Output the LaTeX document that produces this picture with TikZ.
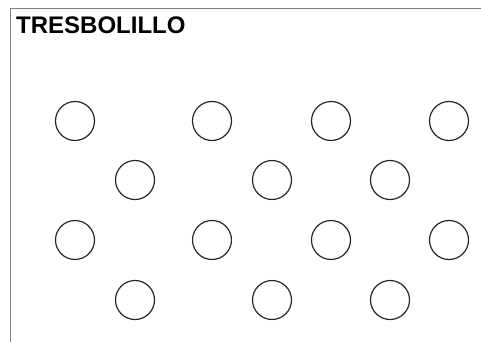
\documentclass[tikz,border=0pt]{standalone}
\usepackage{fontspec}
\setsansfont{Liberation Sans}
\usepackage{xcolor}
\usepackage{tikz}
\usetikzlibrary{positioning}

\begin{document}
\begin{tikzpicture}[x=1pt, y=-1pt, hole/.style={draw=black!85, circle, line width=1.2pt, minimum size=39pt,
    inner sep=0pt}, title/.style={anchor=base west, inner sep=0pt, font=\sffamily\bfseries\fontsize{24}{24}\selectfont}]
    \useasboundingbox (0,0) rectangle (481,342);
    \draw[gray, line width=1pt] (10,342) -- (10,9) -- (481,9);
    \node[title] (titulo) at (16,34) {TRESBOLILLO};
    % fila 1
    \node[hole] (a1) at (75,121) {};
    \node[hole] (a2) at (212,121) {};
    \node[hole] (a3) at (331,121) {};
    \node[hole] (a4) at (449,121) {};
    % fila 2
    \node[hole] (b1) at (135,180) {};
    \node[hole] (b2) at (272,180) {};
    \node[hole] (b3) at (390,180) {};
    % fila 3
    \node[hole] (c1) at (75,240) {};
    \node[hole] (c2) at (212,240) {};
    \node[hole] (c3) at (331,240) {};
    \node[hole] (c4) at (449,240) {};
    % fila 4
    \node[hole] (d1) at (135,300) {};
    \node[hole] (d2) at (272,300) {};
    \node[hole] (d3) at (390,300) {};
  \end{tikzpicture}
\end{document}
